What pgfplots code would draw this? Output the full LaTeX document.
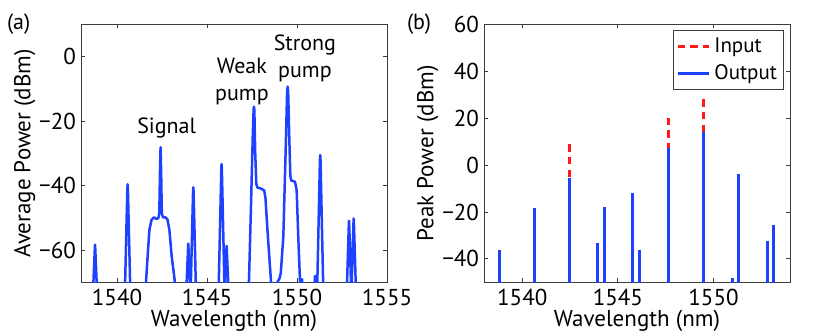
\documentclass[border=0pt]{standalone}
\usepackage{fontspec}
\setmainfont{PT Sans}
\usepackage{pgfplots}
\pgfplotsset{compat=1.18}

\definecolor{lineblue}{RGB}{30,64,255}
\definecolor{inred}{RGB}{255,25,25}
\definecolor{boxgray}{RGB}{60,60,60}

\pgfplotsset{
  panel/.style={
    scale only axis,
    width=153pt, height=129pt,
    axis line style={boxgray, line width=0.5pt},
    major tick style={boxgray, line width=0.5pt},
    major tick length=2pt,
    tick align=inside,
    font=\fontsize{11.5}{13}\selectfont,
    tick label style={font=\fontsize{11.5}{13}\selectfont},
    /pgf/number format/assume math mode=true,
    /pgf/number format/1000 sep={},
    xlabel={Wavelength (nm)},
    xlabel style={yshift=5pt},
    xticklabel style={yshift=0pt},
    yticklabel style={xshift=1pt},
    ylabel style={yshift=-5pt},
    clip=true,
  }
}

\begin{document}
\begin{tikzpicture}
\useasboundingbox (-40.5pt,-24.4pt) rectangle (374.5pt,141.2pt);

% (a) average power spectrum
\begin{axis}[panel, name=a, at={(0pt,0pt)}, anchor=south west,
    xmin=1538, xmax=1555, ymin=-70, ymax=10,
    xtick={1540,1545,1550,1555},
    ytick={-60,-40,-20,0},
    yticklabels={−60,−40,−20,0},
    ylabel={Average Power (dBm)},
]
\addplot[lineblue, line width=1.25pt, line join=round] coordinates {
  (1538.664,-73.5) (1538.768,-59.5) (1538.78,-58.3) (1538.792,-59.5) (1538.896,-73.5)
  (1540.413,-79.1) (1540.575,-41.0) (1540.59,-39.6) (1540.605,-41.0) (1540.767,-79.1)
  (1541.55,-78) (1541.61,-70) (1541.70,-62) (1541.80,-53.7) (1541.92,-50.6)
  (1542.06,-49.8) (1542.20,-50.4) (1542.30,-50.0) (1542.35,-48.5) (1542.39,-35)
  (1542.42,-28.1) (1542.45,-35) (1542.49,-48.5) (1542.55,-49.8) (1542.68,-49.8)
  (1542.80,-50.4) (1542.91,-53.7) (1543.04,-62) (1543.22,-70) (1543.28,-77)
  (1543.843,-73.6) (1543.95,-59.2) (1543.96,-58) (1543.97,-59.2) (1544.077,-73.6)
  (1544.066,-78.9) (1544.225,-41.9) (1544.24,-40.5) (1544.255,-41.9) (1544.414,-78.9)
  (1545.612,-81) (1545.795,-34.8) (1545.81,-33.3) (1545.825,-34.8) (1546.008,-81)
  (1545.976,-73.4) (1546.08,-59.9) (1546.09,-58.7) (1546.10,-59.9) (1546.204,-73.4)
  (1547.25,-82) (1547.33,-70) (1547.45,-45) (1547.54,-25) (1547.59,-16.3)
  (1547.61,-15.5) (1547.63,-16.5) (1547.68,-30) (1547.74,-39.5) (1547.80,-40.6)
  (1548.00,-40.9) (1548.18,-41.5) (1548.25,-44) (1548.35,-53) (1548.46,-62)
  (1548.56,-70) (1548.62,-78)
  (1548.85,-78) (1548.91,-70) (1548.98,-69.2) (1549.04,-68.6) (1549.10,-67)
  (1549.24,-55.8) (1549.39,-24.8) (1549.45,-11) (1549.48,-9.3) (1549.51,-11)
  (1549.57,-24.8) (1549.63,-37) (1549.68,-38.4) (1549.89,-38.8) (1549.98,-41.3)
  (1550.07,-55.8) (1550.17,-70) (1550.20,-76)
  (1550.22,-75) (1550.28,-69) (1550.34,-75)
  (1550.94,-75) (1551.00,-68) (1551.06,-75)
  (1551.083,-81.9) (1551.274,-32) (1551.29,-30.5) (1551.306,-32) (1551.497,-81.9)
  (1552.75,-75.7) (1552.879,-52.1) (1552.89,-50.9) (1552.901,-52.1) (1553.03,-75.7)
  (1553.007,-75.9) (1553.139,-51.4) (1553.15,-50.2) (1553.161,-51.4) (1553.293,-75.9)
};
\node[font=\fontsize{11}{13.5}\selectfont] at (axis cs:1542.76,-22.1) {Signal};
\node[font=\fontsize{11}{13.5}\selectfont, align=center] at (axis cs:1546.94,-7.8) {Weak\\pump};
\node[font=\fontsize{11}{13.5}\selectfont, align=center] at (axis cs:1550.44,-0.5) {Strong\\pump};
\end{axis}

% (b) peak power
\begin{axis}[panel, name=b, at={(201.5pt,0pt)}, anchor=south west,
    xmin=1538, xmax=1554, ymin=-50, ymax=60,
    xtick={1540,1545,1550},
    ytick={-40,-20,0,20,40,60},
    yticklabels={−40,−20,0,20,40,60},
    ylabel={Peak Power (dBm)},
    unbounded coords=jump,
    legend style={at={(rel axis cs:0.982,0.978)}, anchor=north east,
      draw=boxgray, line width=0.5pt, inner sep=1.5pt,
      font=\fontsize{10.5}{12}\selectfont,
      legend cell align=left, row sep=0.5pt},
    legend image code/.code={\draw[#1] (0cm,0cm) -- (0.55cm,0cm);},
]
\addplot[inred, line width=1.5pt, dash pattern=on 3.8pt off 2.6pt] coordinates {
  (1542.46,9) (1542.46,-55) (1542.46,nan)
  (1547.63,20.3) (1547.63,-55) (1547.63,nan)
  (1549.46,28.2) (1549.46,-55)
};
\addlegendentry{Input}
\addplot[lineblue, line width=1.5pt] coordinates {
  (1538.82,-36) (1538.82,-55) (1538.82,nan)
  (1540.63,-18.3) (1540.63,-55) (1540.63,nan)
  (1542.46,-5.5) (1542.46,-55) (1542.46,nan)
  (1543.93,-33.2) (1543.93,-55) (1543.93,nan)
  (1544.29,-18) (1544.29,-55) (1544.29,nan)
  (1545.79,-11.7) (1545.79,-55) (1545.79,nan)
  (1546.14,-36) (1546.14,-55) (1546.14,nan)
  (1547.63,7.2) (1547.63,-55) (1547.63,nan)
  (1549.46,14) (1549.46,-55) (1549.46,nan)
  (1550.98,-48.3) (1550.98,-55) (1550.98,nan)
  (1551.29,-3.8) (1551.29,-55) (1551.29,nan)
  (1552.83,-32.2) (1552.83,-55) (1552.83,nan)
  (1553.16,-25.4) (1553.16,-55)
};
\addlegendentry{Output}
\end{axis}

\node[anchor=west, font=\fontsize{11}{13}\selectfont] at (-40.5pt,129pt) {(a)};
\node[anchor=west, font=\fontsize{11}{13}\selectfont] at (159.5pt,129pt) {(b)};
\end{tikzpicture}
\end{document}
